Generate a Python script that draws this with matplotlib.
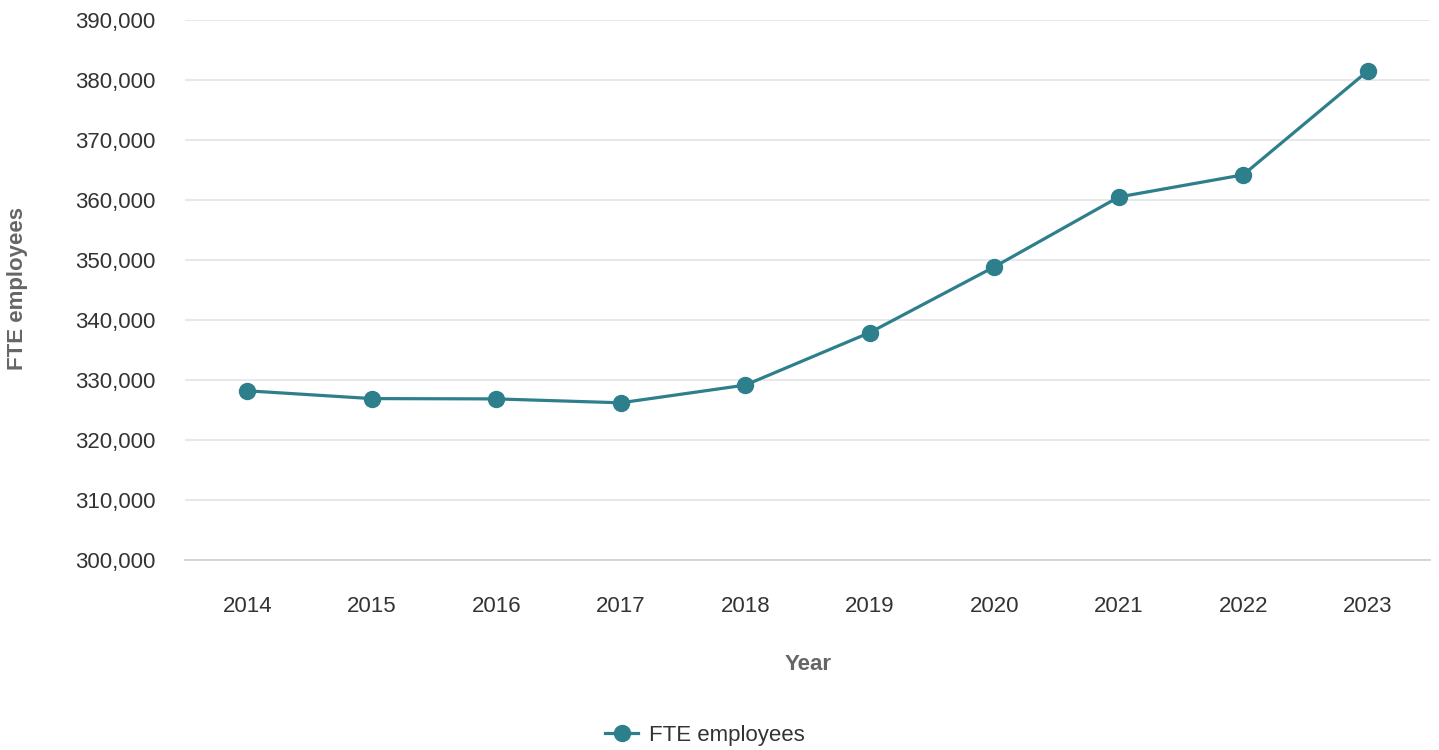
import matplotlib
matplotlib.use("Agg")
import matplotlib.pyplot as plt
from matplotlib.ticker import FuncFormatter

plt.rcParams['font.family'] = ['Liberation Sans', 'DejaVu Sans']

years = ["2014", "2015", "2016", "2017", "2018", "2019", "2020", "2021", "2022", "2023"]
fte_employees = [328200, 326900, 326850, 326200, 329150, 337900, 348850, 360500, 364200, 381500]
y_ticks = [300000, 310000, 320000, 330000, 340000, 350000, 360000, 370000, 380000, 390000]

line_color = "#2e7f8c"
W, H = 1439, 750
left, right, top, bottom = 185, 1430, 20, 560

fig = plt.figure(figsize=(W / 100, H / 100), dpi=100)
ax = fig.add_axes([left / W, 1 - bottom / H, (right - left) / W, (bottom - top) / H])

x = list(range(len(years)))
ax.plot(x, fte_employees, color=line_color, linewidth=2.3, marker="o",
        markersize=11.5, label="FTE employees", zorder=3, clip_on=False)

ax.set_xlim(-0.5, len(years) - 0.5)
ax.set_ylim(300000, 390000)
ax.set_yticks(y_ticks)
ax.yaxis.set_major_formatter(FuncFormatter(lambda v, p: f"{int(v):,}"))
ax.set_xticks(x)
ax.set_xticklabels(years)

ax.grid(axis="y", color="#e6e6e6", linewidth=1.3, zorder=0)
ax.set_axisbelow(True)
for side in ["top", "right", "left"]:
    ax.spines[side].set_visible(False)
ax.spines["bottom"].set_color("#d0d3d6")
ax.spines["bottom"].set_linewidth(1.3)

ax.tick_params(axis="both", length=0, labelsize=16, labelcolor="#333333")
ax.tick_params(axis="y", pad=21.5)
ax.tick_params(axis="x", pad=26)

ax.set_xlabel("Year", fontsize=16, fontweight="bold", color="#666666", va="center")
ax.set_ylabel("FTE employees", fontsize=16, fontweight="bold", color="#666666", va="center")
ax.xaxis.set_label_coords((808 - left) / (right - left), (bottom - 664) / (bottom - top))
ax.yaxis.set_label_coords((18 - left) / (right - left), (bottom - 288) / (bottom - top))

fig.legend(handles=ax.get_lines(), labels=["FTE employees"], loc="center",
           bbox_to_anchor=(705 / W, 1 - 735 / H), frameon=False,
           fontsize=16, labelcolor="#333333", handlelength=1.5, handletextpad=0.5)

fig.savefig("out.png", dpi=100, facecolor="white")
